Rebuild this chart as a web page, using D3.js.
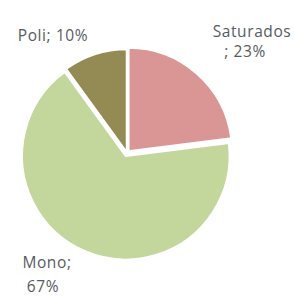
<!DOCTYPE html>
<html>
<head>
<meta charset="utf-8">
<script src="https://cdn.jsdelivr.net/npm/d3@7"></script>
<style>
  body { margin: 0; background: #fff; }
  .label { font-family: "Open Sans", sans-serif; font-size: 15.5px; fill: #565b61; letter-spacing: 0.6px; }
</style>
</head>
<body>
<svg width="294" height="297"></svg>
<script>
// data
var categories = ["Saturados", "Mono", "Poli"];
var values = [23, 67, 10];
var labelLines = [["Saturados", "; 23%"], ["Mono;", "67%"], ["Poli; 10%"]];
var colors = ["#d99694", "#c3d69b", "#948a54"];

var svg = d3.select("svg"),
    cx = 127, cy = 153,
    radius = 104;

var data = categories.map(function(c, i) {
  return {name: c, value: values[i], lines: labelLines[i], color: colors[i]};
});

var pie = d3.pie().sort(null).value(function(d) { return d.value; });
var arc = d3.arc().innerRadius(0).outerRadius(radius);

// small explode offsets per slice
var explode = {"Saturados": 2, "Mono": 3, "Poli": 0};

var chart = svg.append("g")
    .attr("transform", "translate(" + cx + "," + cy + ")");

chart.selectAll(".slice")
    .data(pie(data))
  .enter().append("path")
    .attr("class", "slice")
    .attr("d", arc)
    .attr("fill", function(d) { return d.data.color; })
    .attr("stroke", "#fff")
    .attr("stroke-width", 2.5)
    .attr("stroke-linejoin", "round")
    .attr("transform", function(d) {
      var a = (d.startAngle + d.endAngle) / 2, e = explode[d.data.name];
      return "translate(" + (Math.sin(a) * e) + "," + (-Math.cos(a) * e) + ")";
    });

// labels (placed outside like the Excel chart)
var labelPos = {
  "Saturados": [{x: 252, y: 37}, {x: 245, y: 57}],
  "Mono": [{x: 47, y: 268}, {x: 43, y: 292}],
  "Poli": [{x: 53, y: 41}]
};

data.forEach(function(d) {
  d.lines.forEach(function(line, j) {
    var p = labelPos[d.name][j];
    svg.append("text")
        .attr("class", "label")
        .attr("x", p.x)
        .attr("y", p.y)
        .attr("text-anchor", "middle")
        .text(line);
  });
});
</script>
</body>
</html>
